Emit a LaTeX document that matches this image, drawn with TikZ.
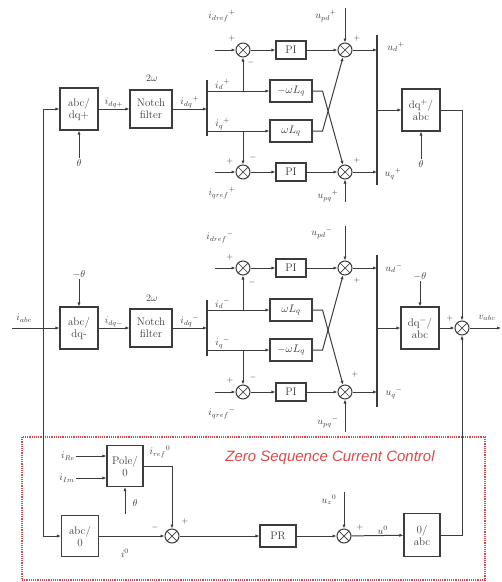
\documentclass[tikz,border=0pt]{standalone}
\usepackage{fontspec}
\usepackage{tikz}
\usetikzlibrary{arrows.meta,calc}
\newfontfamily\zsfont{Liberation Sans}
\definecolor{wire}{HTML}{3C3C3C}
\definecolor{zsred}{HTML}{E04848}
\begin{document}
\begin{tikzpicture}[x=1pt,y=-1pt,>={Latex[length=4pt,width=3.2pt]},font=\normalsize,color=wire,
  blk/.style={draw,line width=1.1pt,minimum width=38pt,minimum height=42pt,align=center,inner sep=1pt,fill=white,
    font=\fontsize{11}{12}\selectfont},
  gain/.style={blk,minimum width=42pt,minimum height=22pt},
  pib/.style={blk,minimum width=30pt,minimum height=18pt},
  sumx/.style={circle,draw,line width=1pt,minimum size=14pt,inner sep=0pt,
    path picture={\draw[line width=0.7pt] (path picture bounding box.north west) -- (path picture bounding box.south east)
      (path picture bounding box.south west) -- (path picture bounding box.north east);}},
  sig/.style={->,line width=1pt},
  bar/.style={line width=2.6pt},
  lbl/.style={font=\normalsize,inner sep=1pt},
  sgn/.style={font=\footnotesize,inner sep=0pt}]
  \useasboundingbox (0,0) rectangle (502,582);
  % positive sequence
  \node[blk] (abcp) at (79,109) {abc/\\dq+};
  \node[lbl] (thp) at (79,163) {$\theta$};
  \node[blk,minimum width=42pt,minimum height=38pt] (nfp) at (151,109) {Notch\\filter};
  \node[lbl] (wp) at (152,78) {$2\omega$};
  \coordinate (bp1t) at (207,80); \coordinate (bp1b) at (207,136);
  \node[gain] (gp1) at (291,91) {$-\omega L_q$};
  \node[gain] (gp2) at (291,131) {$\omega L_q$};
  \node[sumx] (sp1) at (243,50) {};
  \node[pib] (pip1) at (291,50) {PI};
  \node[sumx] (sp2) at (345,50) {};
  \node[sumx] (sp3) at (243,172) {};
  \node[pib] (pip2) at (291,172) {PI};
  \node[sumx] (sp4) at (345,172) {};
  \coordinate (bp2t) at (377,35); \coordinate (bp2b) at (377,185);
  \node[blk] (dqp) at (421,110) {dq$^{+}$/\\abc};
  \node[lbl] (thp2) at (421,164) {$\theta$};
  \coordinate (rp1) at (215,50); \coordinate (rp2) at (215,172);
  \coordinate (up1) at (345,8); \coordinate (up2) at (345,202);
  \node[lbl] (irdp) at (222,16) {${i_{dref}}^{+}$};
  \node[lbl] (irqp) at (222,193) {${i_{qref}}^{+}$};
  \node[lbl] (updp) at (326,16) {${u_{pd}}^{+}$};
  \node[lbl] (upqp) at (328,196) {${u_{pq}}^{+}$};
  \node[lbl] (udp) at (396,47) {${u_d}^{+}$};
  \node[lbl] (uqp) at (393,174) {${u_q}^{+}$};
  \draw[sig] (abcp) -- node[lbl,above]{$i_{dq+}$} (nfp);
  \draw[sig] (thp) -- (abcp);
  \draw[sig] (nfp) -- node[lbl,above]{${i_{dq}}^{+}$} (nfp -| bp1t);
  \draw[sig] (bp1t |- gp1) -- node[lbl,above,pos=0.25]{${i_d}^{+}$} (gp1);
  \draw[sig] (bp1t |- gp2) -- node[lbl,above,pos=0.25]{${i_q}^{+}$} (gp2);
  \draw[sig] (rp1) -- (sp1);
  \draw[sig] (sp1 |- gp1) -- (sp1);
  \draw[sig] (sp1) -- (pip1);
  \draw[sig] (pip1) -- (sp2);
  \draw[sig] (up1) -- (sp2);
  \draw[sig] (rp2) -- (sp3);
  \draw[sig] (sp3 |- gp2) -- (sp3);
  \draw[sig] (sp3) -- (pip2);
  \draw[sig] (pip2) -- (sp4);
  \draw[sig] (up2) -- (sp4);
  \draw[sig] (gp1.east) -- ++(10,0) -- (sp4);
  \draw[sig] (gp2.east) -- ++(10,0) -- (sp2);
  \draw[sig] (sp2) -- (sp2 -| bp2t);
  \draw[sig] (sp4) -- (sp4 -| bp2t);
  \draw[bar] (bp1t) -- (bp1b);
  \draw[bar] (bp2t) -- (bp2b);
  \draw[sig] (bp2t |- dqp) -- (dqp);
  \draw[sig] (thp2) -- (dqp);
  % negative sequence
  \node[blk] (abcm) at (79,328) {abc/\\dq-};
  \node[lbl] (thm) at (79,274) {$-\theta$};
  \node[blk,minimum width=42pt,minimum height=38pt] (nfm) at (151,328) {Notch\\filter};
  \node[lbl] (wm) at (152,298) {$2\omega$};
  \coordinate (bm1t) at (207,300); \coordinate (bm1b) at (207,356);
  \node[gain] (gm1) at (291,310) {$\omega L_q$};
  \node[gain] (gm2) at (291,350) {$-\omega L_q$};
  \node[sumx] (sm1) at (243,268) {};
  \node[pib] (pim1) at (291,268) {PI};
  \node[sumx] (sm2) at (345,268) {};
  \node[sumx] (sm3) at (243,392) {};
  \node[pib] (pim2) at (291,392) {PI};
  \node[sumx] (sm4) at (345,392) {};
  \coordinate (bm2t) at (377,255); \coordinate (bm2b) at (377,407);
  \node[blk] (dqm) at (420,328) {dq$^{-}$/\\abc};
  \node[lbl] (thm2) at (420,276) {$-\theta$};
  \coordinate (rm1) at (215,268); \coordinate (rm2) at (215,392);
  \coordinate (um1) at (345,226); \coordinate (um2) at (345,432);
  \node[lbl] (irdm) at (220,237) {${i_{dref}}^{-}$};
  \node[lbl] (irqm) at (222,413) {${i_{qref}}^{-}$};
  \node[lbl] (updm) at (322,233) {${u_{pd}}^{-}$};
  \node[lbl] (upqm) at (328,422) {${u_{pq}}^{-}$};
  \node[lbl] (udm) at (394,268) {${u_d}^{-}$};
  \node[lbl] (uqm) at (394,393) {${u_q}^{-}$};
  \draw[sig] (abcm) -- node[lbl,above]{$i_{dq-}$} (nfm);
  \draw[sig] (thm) -- (abcm);
  \draw[sig] (nfm) -- node[lbl,above]{${i_{dq}}^{-}$} (nfm -| bm1t);
  \draw[sig] (bm1t |- gm1) -- node[lbl,above,pos=0.25]{${i_d}^{-}$} (gm1);
  \draw[sig] (bm1t |- gm2) -- node[lbl,above,pos=0.25]{${i_q}^{-}$} (gm2);
  \draw[sig] (rm1) -- (sm1);
  \draw[sig] (sm1 |- gm1) -- (sm1);
  \draw[sig] (sm1) -- (pim1);
  \draw[sig] (pim1) -- (sm2);
  \draw[sig] (um1) -- (sm2);
  \draw[sig] (rm2) -- (sm3);
  \draw[sig] (sm3 |- gm2) -- (sm3);
  \draw[sig] (sm3) -- (pim2);
  \draw[sig] (pim2) -- (sm4);
  \draw[sig] (um2) -- (sm4);
  \draw[sig] (gm1.east) -- ++(10,0) -- (sm4);
  \draw[sig] (gm2.east) -- ++(10,0) -- (sm2);
  \draw[sig] (sm2) -- (sm2 -| bm2t);
  \draw[sig] (sm4) -- (sm4 -| bm2t);
  \draw[bar] (bm1t) -- (bm1b);
  \draw[bar] (bm2t) -- (bm2b);
  \draw[sig] (bm2t |- dqm) -- (dqm);
  \draw[sig] (thm2) -- (dqm);
  % input and output
  \coordinate (iin) at (12,328); \coordinate (spl) at (43,328);
  \node[lbl] (iabc) at (24,318) {$i_{abc}$};
  \node[sumx] (sf) at (462,328) {};
  \coordinate (vout) at (501,328);
  \node[lbl] (vabc) at (487,318) {$v_{abc}$};
  \draw[sig] (iin) -- (abcm);
  \draw[sig] (spl) |- (abcp);
  \draw[sig] (dqp.east) -| (sf);
  \draw[sig] (dqm) -- (sf);
  \draw[sig] (sf) -- (vout);
  % zero sequence
  \draw[zsred,densely dotted,line width=1.2pt] (22,437) rectangle (485,580);
  \node[zsred,font=\zsfont\itshape\fontsize{15}{17}\selectfont] (zsc) at (330,458) {Zero Sequence Current Control};
  \node[blk,minimum width=36pt,minimum height=41pt] (pole) at (125,466) {Pole/\\0};
  \node[lbl] (ire) at (68,456) {$i_{Re}$};
  \node[lbl] (iim) at (67,478) {$i_{Im}$};
  \coordinate (thz) at (125,514);
  \node[lbl] (thzl) at (135,503) {$\theta$};
  \node[blk,minimum width=37pt,minimum height=41pt] (abc0) at (80,536) {abc/\\0};
  \node[sumx] (sz1) at (172,536) {};
  \node[blk,minimum width=36pt,minimum height=22pt] (pr) at (278,536) {PR};
  \node[sumx] (sz2) at (344,536) {};
  \coordinate (uz) at (344,492);
  \node[lbl] (uzl) at (329,500) {${u_z}^{0}$};
  \node[blk,minimum width=36pt,minimum height=43pt] (zabc) at (422,535) {0/\\abc};
  \node[lbl] (irz) at (160,452) {${i_{ref}}^{0}$};
  \node[lbl] (iz) at (125,553) {$i^{0}$};
  \draw[sig] (ire) -- (ire -| pole.west);
  \draw[sig] (iim) -- (iim -| pole.west);
  \draw[sig] (thz) -- (pole);
  \draw[sig] (pole.east) -| (sz1);
  \draw[sig] (spl) |- (abc0);
  \draw[sig] (abc0) -- (sz1);
  \draw[sig] (sz1) -- (pr);
  \draw[sig] (pr) -- (sz2);
  \draw[sig] (uz) -- (sz2);
  \draw[sig] (sz2) -- node[lbl,above,pos=0.6]{$u^{0}$} (zabc);
  \draw[sig] (zabc) -| (sf);
  % signs
  \foreach \p [count=\k] in {(232,38),(357,38),(230,161),(357,160),(230,257),(357,280),(230,380),(355,374),(450,318),(185,521),(360,527)}
    \node[sgn] (pl\k) at \p {$+$};
  \foreach \p [count=\k] in {(251,62),(253,157),(252,282),(253,377),(155,527)}
    \node[sgn] (mi\k) at \p {$-$};
\end{tikzpicture}
\end{document}
